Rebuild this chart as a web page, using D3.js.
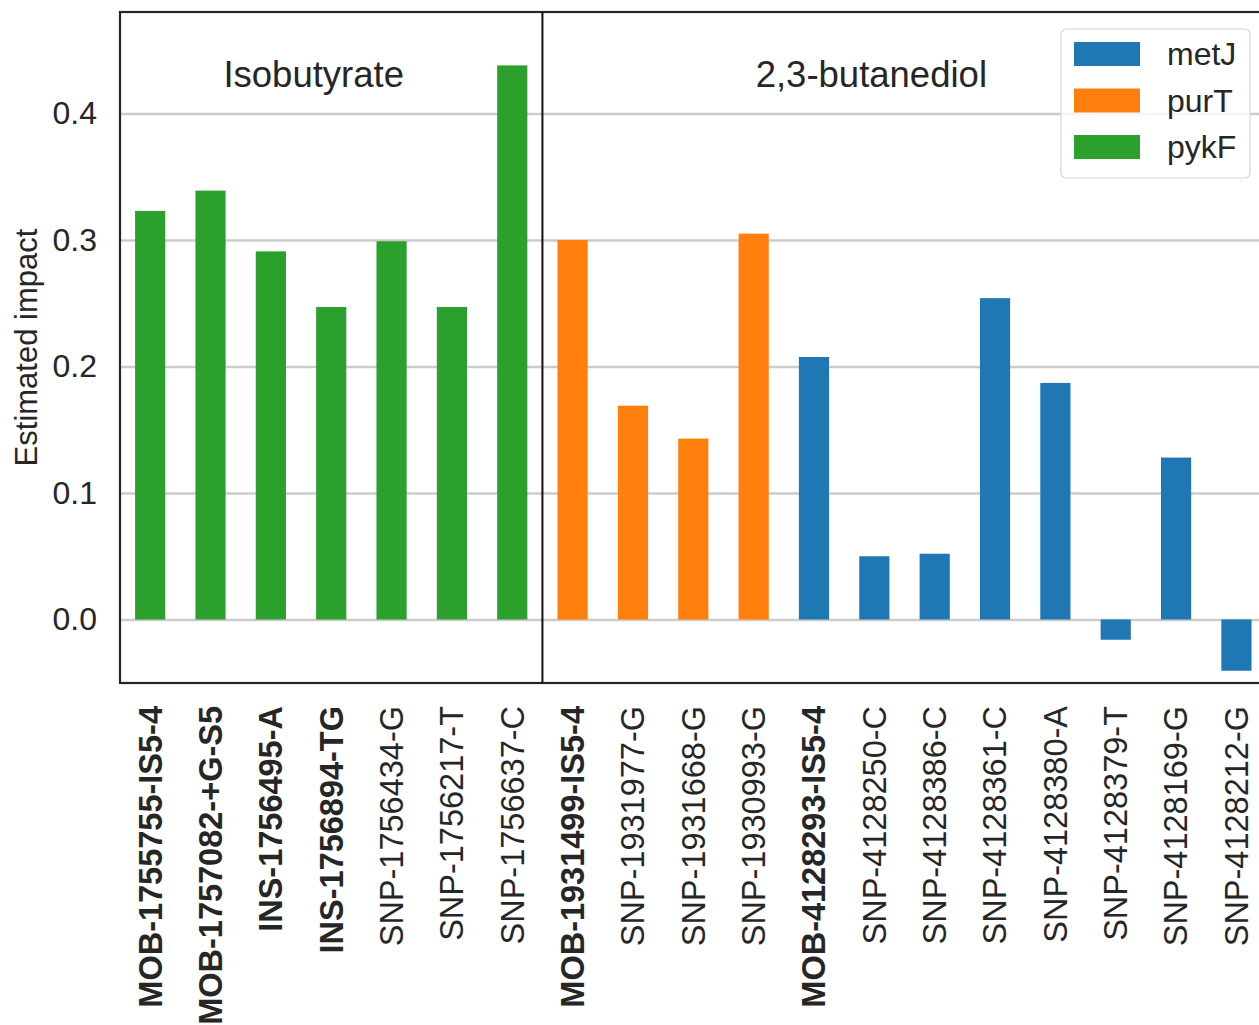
<!DOCTYPE html>
<html>
<head>
<meta charset="utf-8">
<script src="https://cdn.jsdelivr.net/npm/d3@7"></script>
<style>
  html, body { margin: 0; padding: 0; background: #fff; }
  svg { display: block; font-family: Arial, "Liberation Sans", sans-serif; }
</style>
</head>
<body>
<svg id="chart" width="1259" height="1025"></svg>
<script>
// Mutation labels along the x axis
const categories = [
  "MOB-1755755-IS5-4", "MOB-1757082-+G-S5", "INS-1756495-A", "INS-1756894-TG",
  "SNP-1756434-G", "SNP-1756217-T", "SNP-1756637-C",
  "MOB-1931499-IS5-4", "SNP-1931977-G", "SNP-1931668-G", "SNP-1930993-G",
  "MOB-4128293-IS5-4", "SNP-4128250-C", "SNP-4128386-C", "SNP-4128361-C",
  "SNP-4128380-A", "SNP-4128379-T", "SNP-4128169-G", "SNP-4128212-G"
];
// Estimated impact of each mutation
const impact = [
  0.323, 0.339, 0.291, 0.247, 0.299, 0.247, 0.438,
  0.300, 0.169, 0.143, 0.305,
  0.2075, 0.050, 0.052, 0.254, 0.187, -0.016, 0.128, -0.0405
];
// Gene hit by each mutation
const gene = [
  "pykF", "pykF", "pykF", "pykF", "pykF", "pykF", "pykF",
  "purT", "purT", "purT", "purT",
  "metJ", "metJ", "metJ", "metJ", "metJ", "metJ", "metJ", "metJ"
];
const genes = ["metJ", "purT", "pykF"];
const geneColors = ["#1f77b4", "#ff7f0e", "#2ca02c"];
const yTicks = [0.0, 0.1, 0.2, 0.3, 0.4];
// Panel titles and the category positions they sit over
const panels = [
  { title: "Isobutyrate", at: 2.71 },
  { title: "2,3-butanediol", at: 11.95 }
];
const panelSplit = 6.5;

const svg = d3.select("#chart");
const ink = "#262626";
const plotLeft = 120, plotTop = 12, plotBottom = 683;

const x = d3.scaleLinear().domain([-0.5, categories.length - 0.5]).range([plotLeft, 1266.6]);
const y = d3.scaleLinear().domain([-0.0502, 0.4802]).range([plotBottom, plotTop]);
const color = d3.scaleOrdinal().domain(genes).range(geneColors);

const plotW = 1259 - plotLeft;

// Horizontal grid
svg.append("g")
  .attr("transform", `translate(${plotLeft},0)`)
  .call(d3.axisLeft(y).tickValues(yTicks).tickSize(-plotW).tickFormat(""))
  .call(g => g.select(".domain").remove())
  .call(g => g.selectAll("line").attr("stroke", "#cccccc").attr("stroke-width", 2.5));

// Y tick labels
svg.append("g")
  .attr("transform", `translate(${plotLeft},0)`)
  .call(d3.axisLeft(y).tickValues(yTicks).tickSize(0).tickPadding(23).tickFormat(d3.format(".1f")))
  .call(g => g.select(".domain").remove())
  .call(g => g.selectAll("text")
    .attr("fill", ink).style("font-size", "32px")
    .style("font-family", "Arial, 'Liberation Sans', sans-serif"));

// Bars
svg.append("g").selectAll("rect")
  .data(categories)
  .join("rect")
  .attr("x", (d, i) => x(i - 0.25))
  .attr("width", (d, i) => x(i + 0.25) - x(i - 0.25))
  .attr("y", (d, i) => y(Math.max(0, impact[i])))
  .attr("height", (d, i) => Math.abs(y(impact[i]) - y(0)))
  .attr("fill", (d, i) => color(gene[i]));

// Frame
svg.append("rect")
  .attr("x", plotLeft).attr("y", plotTop)
  .attr("width", x.range()[1] - plotLeft).attr("height", plotBottom - plotTop)
  .attr("fill", "none").attr("stroke", ink).attr("stroke-width", 2.2);

// Panel divider
svg.append("line")
  .attr("x1", x(panelSplit)).attr("x2", x(panelSplit))
  .attr("y1", plotTop).attr("y2", plotBottom)
  .attr("stroke", "#111").attr("stroke-width", 2);

// Panel titles
svg.append("g").selectAll("text")
  .data(panels)
  .join("text")
  .attr("x", d => x(d.at))
  .attr("y", y(0.421))
  .attr("text-anchor", "middle")
  .attr("fill", ink)
  .style("font-size", "36.5px")
  .text(d => d.title);

// X tick labels (rotated), insertions and mobile elements in bold
svg.append("g").selectAll("text")
  .data(categories)
  .join("text")
  .attr("transform", (d, i) => `translate(${x(i)},706) rotate(-90)`)
  .attr("text-anchor", "end")
  .attr("dy", "0.35em")
  .attr("fill", ink)
  .style("font-size", "32.5px")
  .style("font-weight", d => d.startsWith("SNP") ? "normal" : "bold")
  .text(d => d);

// Y axis label
svg.append("text")
  .attr("transform", `translate(37,${(plotTop + plotBottom) / 2}) rotate(-90)`)
  .attr("text-anchor", "middle")
  .attr("fill", ink)
  .style("font-size", "31px")
  .text("Estimated impact");

// Legend
const legend = svg.append("g").attr("transform", "translate(1061,29)");
legend.append("rect")
  .attr("width", 189).attr("height", 149).attr("rx", 5)
  .attr("fill", "#fff").attr("fill-opacity", 0.8)
  .attr("stroke", "#d6d6d6").attr("stroke-width", 1.2);
const items = legend.selectAll("g.item")
  .data(genes)
  .join("g")
  .attr("class", "item")
  .attr("transform", (d, i) => `translate(0,${13 + i * 46.5})`);
items.append("rect")
  .attr("x", 13).attr("width", 66).attr("height", 24)
  .attr("fill", d => color(d));
items.append("text")
  .attr("x", 106).attr("y", 12).attr("dy", "0.35em")
  .attr("fill", ink)
  .style("font-size", "32px")
  .text(d => d);
</script>
</body>
</html>
